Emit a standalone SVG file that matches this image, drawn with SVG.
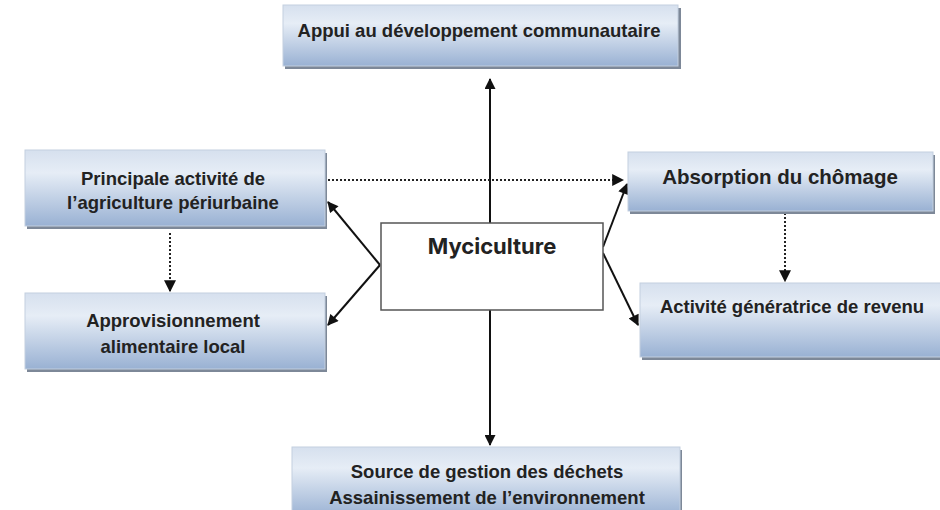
<svg xmlns="http://www.w3.org/2000/svg" width="940" height="510" viewBox="0 0 940 510">
<defs>
<linearGradient id="boxg" x1="0" y1="0" x2="0" y2="1">
<stop offset="0" stop-color="#d6e0ee"/>
<stop offset="0.3" stop-color="#e6edf6"/>
<stop offset="1" stop-color="#99b1d3"/>
</linearGradient>
<marker id="ah" viewBox="0 0 10 10" refX="9" refY="5" markerWidth="6" markerHeight="5.5" orient="auto" markerUnits="strokeWidth">
<path d="M0,0 L10,5 L0,10 z" fill="#111"/>
</marker>
<marker id="ahd" viewBox="0 0 10 10" refX="9" refY="5" markerWidth="6" markerHeight="6" orient="auto" markerUnits="strokeWidth">
<path d="M0,0 L10,5 L0,10 z" fill="#111"/>
</marker>
</defs>
<style>
.shadow{fill:#7d8898;}
.box{fill:url(#boxg);stroke:#c3cfdf;stroke-width:1;}
.t{font-family:"Liberation Sans",Arial,sans-serif;font-weight:bold;font-size:18.5px;fill:#222;text-anchor:middle;}
.solid{stroke:#111;stroke-width:2;fill:none;marker-end:url(#ah);}
.dot{stroke:#222;stroke-width:2;stroke-dasharray:2 2;fill:none;marker-end:url(#ahd);}
</style>
<rect width="940" height="510" fill="#ffffff"/>
<g id="connectors">
<line class="solid" x1="490" y1="223" x2="490" y2="79"/>
<line class="solid" x1="490" y1="310" x2="490" y2="445"/>
<line class="solid" x1="380" y1="265" x2="328" y2="202"/>
<line class="solid" x1="380" y1="265" x2="328" y2="325"/>
<line class="solid" x1="603" y1="247" x2="627" y2="184"/>
<line class="solid" x1="603" y1="253" x2="638" y2="325"/>
<line class="dot" x1="328" y1="180" x2="623" y2="180"/>
<line class="dot" x1="170" y1="233" x2="170" y2="291"/>
<line class="dot" x1="785" y1="213" x2="785" y2="281"/>
</g>
<g id="node-appui">
<rect class="shadow" x="285" y="8" width="396" height="61"/>
<rect class="box" x="283" y="5" width="395" height="61"/>
<text class="t" x="479" y="37">Appui au développement communautaire</text>
</g>
<g id="node-principale">
<rect class="shadow" x="27" y="153" width="300" height="76"/>
<rect class="box" x="25" y="150" width="300" height="76"/>
<text class="t" x="173" y="185">Principale activité de</text>
<text class="t" x="173" y="209">l’agriculture périurbaine</text>
</g>
<g id="node-approvisionnement">
<rect class="shadow" x="27" y="296" width="300" height="76"/>
<rect class="box" x="25" y="293" width="300" height="76"/>
<text class="t" x="173" y="327">Approvisionnement</text>
<text class="t" x="173" y="353">alimentaire local</text>
</g>
<g id="node-absorption">
<rect class="shadow" x="630" y="155" width="305" height="59"/>
<rect class="box" x="628" y="152" width="305" height="59"/>
<text class="t" x="780" y="184" style="font-size:20.5px">Absorption du chômage</text>
</g>
<g id="node-activite">
<rect class="shadow" x="642" y="286" width="300" height="74"/>
<rect class="box" x="640" y="283" width="302" height="74"/>
<text class="t" x="792" y="313">Activité génératrice de revenu</text>
</g>
<g id="node-source">
<rect class="shadow" x="294" y="450" width="388" height="70"/>
<rect class="box" x="292" y="447" width="388" height="70"/>
<text class="t" x="487" y="478">Source de gestion des déchets</text>
<text class="t" x="487" y="504">Assainissement de l’environnement</text>
</g>
<g id="node-myciculture">
<rect x="381" y="223" width="222" height="87" fill="#ffffff" stroke="#555" stroke-width="1.5"/>
<text class="t" x="492" y="254" style="font-family:Inter,'Liberation Sans',sans-serif;font-size:22px">Myciculture</text>
</g>
</svg>
